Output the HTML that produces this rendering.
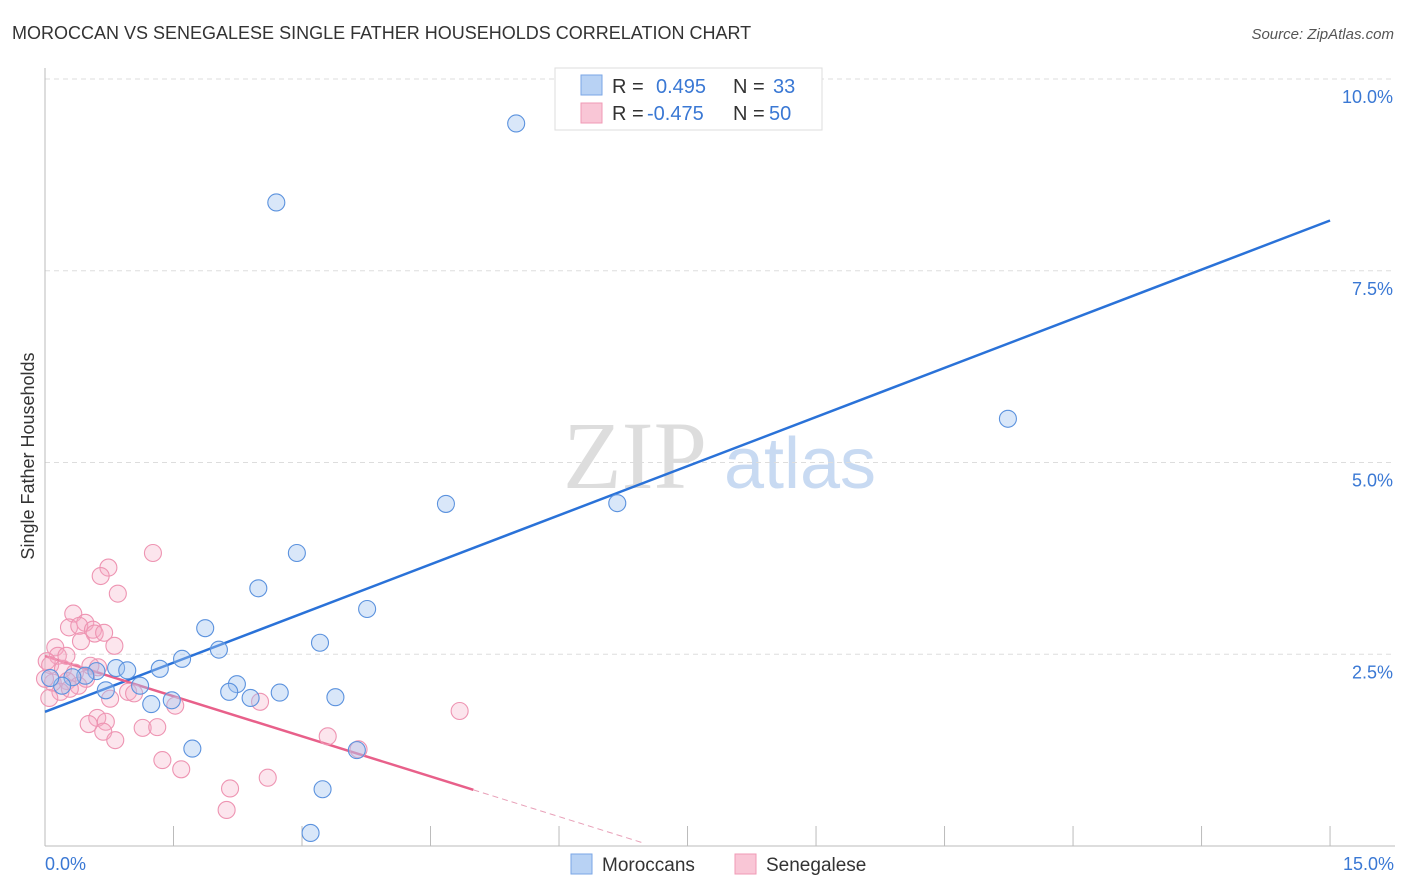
<!DOCTYPE html>
<html><head><meta charset="utf-8"><style>
body{margin:0;background:#fff;font-family:"Liberation Sans",sans-serif;}
svg{display:block}
</style></head><body>
<svg width="1406" height="892" id="chart">
<text x="12" y="39" font-size="18" fill="#333">MOROCCAN VS SENEGALESE SINGLE FATHER HOUSEHOLDS CORRELATION CHART</text>
<text x="1394" y="39" font-size="15" fill="#555" font-style="italic" text-anchor="end">Source: ZipAtlas.com</text>
<g>
<text x="635" y="488" font-size="96" fill="#ddd" font-family="Liberation Serif,serif" text-anchor="middle">ZIP</text>
<text x="800" y="488" font-size="72" fill="#c8daf2" text-anchor="middle">atlas</text>
</g>
<g id="grid"></g>
<line x1="45" y1="68" x2="45" y2="846" stroke="#bbb"/>
<line x1="45" y1="846" x2="1395" y2="846" stroke="#bbb"/>
<text x="34" y="456" font-size="18" fill="#333" text-anchor="middle" transform="rotate(-90 34 456)">Single Father Households</text>
<text x="45" y="870" font-size="18" fill="#3a78d4">0.0%</text>
<text x="1394" y="870" font-size="18" fill="#3a78d4" text-anchor="end">15.0%</text>
<g id="lines"></g>
<g id="points"></g>
<g>
<rect x="555" y="68" width="267" height="62" fill="#fff" stroke="#ddd"/>
<rect x="581" y="75" width="21" height="20" fill="#b8d2f4" stroke="#7aa6e6"/>
<rect x="581" y="103" width="21" height="20" fill="#f9c6d6" stroke="#f09ab5"/>
<text x="612" y="93" font-size="20" fill="#333">R = </text><text x="656" y="93" font-size="20" fill="#3a78d4">0.495</text>
<text x="733" y="93" font-size="20" fill="#333">N = </text><text x="773" y="93" font-size="20" fill="#3a78d4">33</text>
<text x="612" y="120" font-size="20" fill="#333">R = </text><text x="647" y="120" font-size="20" fill="#3a78d4">-0.475</text>
<text x="733" y="120" font-size="20" fill="#333">N = </text><text x="769" y="120" font-size="20" fill="#3a78d4">50</text>
</g>
<g>
<rect x="571" y="854" width="21" height="20" fill="#b8d2f4" stroke="#7aa6e6"/>
<text x="602" y="871" font-size="19" fill="#333">Moroccans</text>
<rect x="735" y="854" width="21" height="20" fill="#f9c6d6" stroke="#f09ab5"/>
<text x="766" y="871" font-size="19" fill="#333">Senegalese</text>
</g>
</svg>
<script>
const yTicks=[2.5,5,7.5,10];
const yTickLabels=["2.5%","5.0%","7.5%","10.0%"];
const xTicks=[1.5,3,4.5,6,7.5,9,10.5,12,13.5,15];
const blueX=[5.50,2.70,11.24,4.68,6.68,2.94,2.49,3.76,1.87,3.21,2.03,1.60,1.34,0.83,0.96,0.60,0.47,0.32,0.20,1.11,0.71,2.24,2.74,2.40,2.15,3.39,1.24,1.48,1.72,3.64,3.24,3.10,0.06];
const blueY=[9.42,8.39,5.57,4.46,4.47,3.82,3.36,3.09,2.84,2.65,2.56,2.44,2.31,2.32,2.29,2.28,2.22,2.20,2.09,2.09,2.03,2.11,2.00,1.93,2.01,1.94,1.85,1.90,1.27,1.25,0.74,0.17,2.19];
const pinkX=[1.26,0.74,0.65,0.85,0.33,0.47,0.28,0.40,0.56,0.58,0.69,0.81,0.42,0.12,0.15,0.02,0.06,0.21,0.62,0.35,0.48,0.26,0.39,0.18,0.05,0.76,0.97,1.04,1.52,2.51,4.84,0.61,0.51,0.71,0.68,0.82,1.14,1.31,1.37,1.59,3.30,3.66,2.16,2.60,2.12,0.29,0.09,0.00,0.53,0.25];
const pinkY=[3.82,3.63,3.52,3.29,3.03,2.91,2.85,2.87,2.82,2.77,2.78,2.61,2.67,2.59,2.48,2.41,2.36,2.31,2.33,2.26,2.18,2.15,2.09,2.01,1.93,1.92,2.01,1.99,1.83,1.88,1.76,1.67,1.59,1.62,1.49,1.38,1.54,1.55,1.12,1.00,1.43,1.26,0.75,0.89,0.47,2.05,2.13,2.18,2.35,2.48];
const blueTrend=[1.75,0.427];
const pinkTrend=[2.477,-0.349];
const X=v=>45+v*85.67, Y=v=>846-v*76.7;
const ns="http://www.w3.org/2000/svg";
function mk(t,a,p){const e=document.createElementNS(ns,t);for(const k in a)e.setAttribute(k,a[k]);document.getElementById(p).appendChild(e);return e;}
yTicks.forEach((t,i)=>{
 const l=mk('line',{x1:45,x2:1395,y1:Y(t),y2:Y(t),stroke:'#ddd','stroke-dasharray':'5,4'},'grid');
 
 
 const tx=mk('text',{x:1393,y:Y(t)+24,'font-size':18,fill:'#3a78d4','text-anchor':'end'},'grid');
 tx.textContent=yTickLabels[i];
 
 
});
xTicks.forEach(t=>{
 const l=mk('line',{x1:X(t),x2:X(t),y1:826,y2:846,stroke:'#bbb'},'grid');
 
 
});
let b=mk('line',{x1:X(0),y1:Y(blueTrend[0]),x2:X(15),y2:Y(blueTrend[0]+15*blueTrend[1]),stroke:'#2a72d8','stroke-width':2.5},'lines');


let p=mk('line',{x1:X(0),y1:Y(pinkTrend[0]),x2:X(5),y2:Y(pinkTrend[0]+5*pinkTrend[1]),stroke:'#e8608a','stroke-width':2.5},'lines');


let pd=mk('line',{x1:X(5),y1:Y(pinkTrend[0]+5*pinkTrend[1]),x2:X(7),y2:Y(pinkTrend[0]+7*pinkTrend[1]),stroke:'#e8a0b8','stroke-width':1,'stroke-dasharray':'6,4'},'lines');


pinkX.forEach((x,i)=>{
 const c=mk('circle',{cx:X(x),cy:Y(pinkY[i]),r:8.5,fill:'rgba(246,170,196,0.3)',stroke:'#ee94b2','stroke-width':1.1},'points');
 
 
});
blueX.forEach((x,i)=>{
 const c=mk('circle',{cx:X(x),cy:Y(blueY[i]),r:8.5,fill:'rgba(160,196,240,0.4)',stroke:'#5b92de','stroke-width':1.1},'points');
 
 
});
</script>
</body></html>
